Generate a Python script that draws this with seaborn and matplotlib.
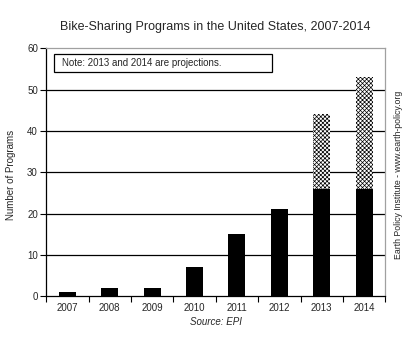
import matplotlib
matplotlib.use("Agg")
import matplotlib.pyplot as plt
import matplotlib.patches as mpatches
import seaborn as sns
import numpy as np
import pandas as pd

years = ["2007", "2008", "2009", "2010", "2011", "2012", "2013", "2014"]
existing = [1, 2, 2, 7, 15, 21, 26, 26]
projected_extra = [0, 0, 0, 0, 0, 0, 18, 27]
yticks = [0, 10, 20, 30, 40, 50, 60]

sns.set_theme(style="white")
plt.rcParams['font.family'] = ['Liberation Sans', 'DejaVu Sans']
plt.rcParams['hatch.linewidth'] = 0.5

df = pd.DataFrame({"year": years,
                   "existing": existing,
                   "total": [a + b for a, b in zip(existing, projected_extra)]})

fig = plt.figure(figsize=(4.09, 3.37), dpi=100)
ax = fig.add_axes([0.113, 0.121, 0.829, 0.736])

for y in yticks[1:-1]:
    ax.axhline(y, color="black", lw=0.9, zorder=0)

sns.barplot(data=df, x="year", y="total", color="white", edgecolor="black",
            linewidth=0, hatch="xxxxxxxx", width=0.4, ax=ax, zorder=2)
sns.barplot(data=df, x="year", y="existing", color="black", edgecolor="black",
            linewidth=0, width=0.4, ax=ax, zorder=3, saturation=1)

ax.set_ylim(0, 60)
ax.set_xlim(-0.5, len(years) - 0.5)
ax.set_yticks(yticks)
ax.set_yticklabels([str(v) for v in yticks], fontsize=7)
ax.set_xticks(range(len(years)))
ax.set_xticklabels(years, fontsize=7)
ax.set_xticks(np.arange(-0.5, len(years), 1), minor=True)
ax.tick_params(axis="x", which="major", length=0, pad=5)
ax.tick_params(axis="x", which="minor", length=4, width=0.8, color="black", direction="out", bottom=True)
ax.tick_params(axis="y", length=4, width=0.8, color="black", direction="out", left=True, pad=2)
ax.set_xlabel("Source: EPI", fontsize=7, style="italic", labelpad=3)
ax.set_ylabel("")

for s in ["left", "bottom"]:
    ax.spines[s].set_color("black")
    ax.spines[s].set_linewidth(0.9)
for s in ["top", "right"]:
    ax.spines[s].set_color("#a0a0a0")
    ax.spines[s].set_linewidth(0.9)

ax.add_patch(mpatches.Rectangle((0.024, 0.903), 0.643, 0.073, transform=ax.transAxes,
                                fc="white", ec="black", lw=0.9, zorder=5))
ax.text(0.047, 0.94, "Note: 2013 and 2014 are projections.", transform=ax.transAxes,
        fontsize=7, ha="left", va="center", zorder=6)

fig.text(0.526, 0.92, "Bike-Sharing Programs in the United States, 2007-2014",
         ha="center", va="center", fontsize=9)
fig.text(0.026, 0.48, "Number of Programs", rotation=90,
         ha="center", va="center", fontsize=7)
fig.text(0.974, 0.48, "Earth Policy Institute - www.earth-policy.org", rotation=90,
         ha="center", va="center", fontsize=6.3)

fig.savefig("out.png", dpi=100, facecolor="white")
